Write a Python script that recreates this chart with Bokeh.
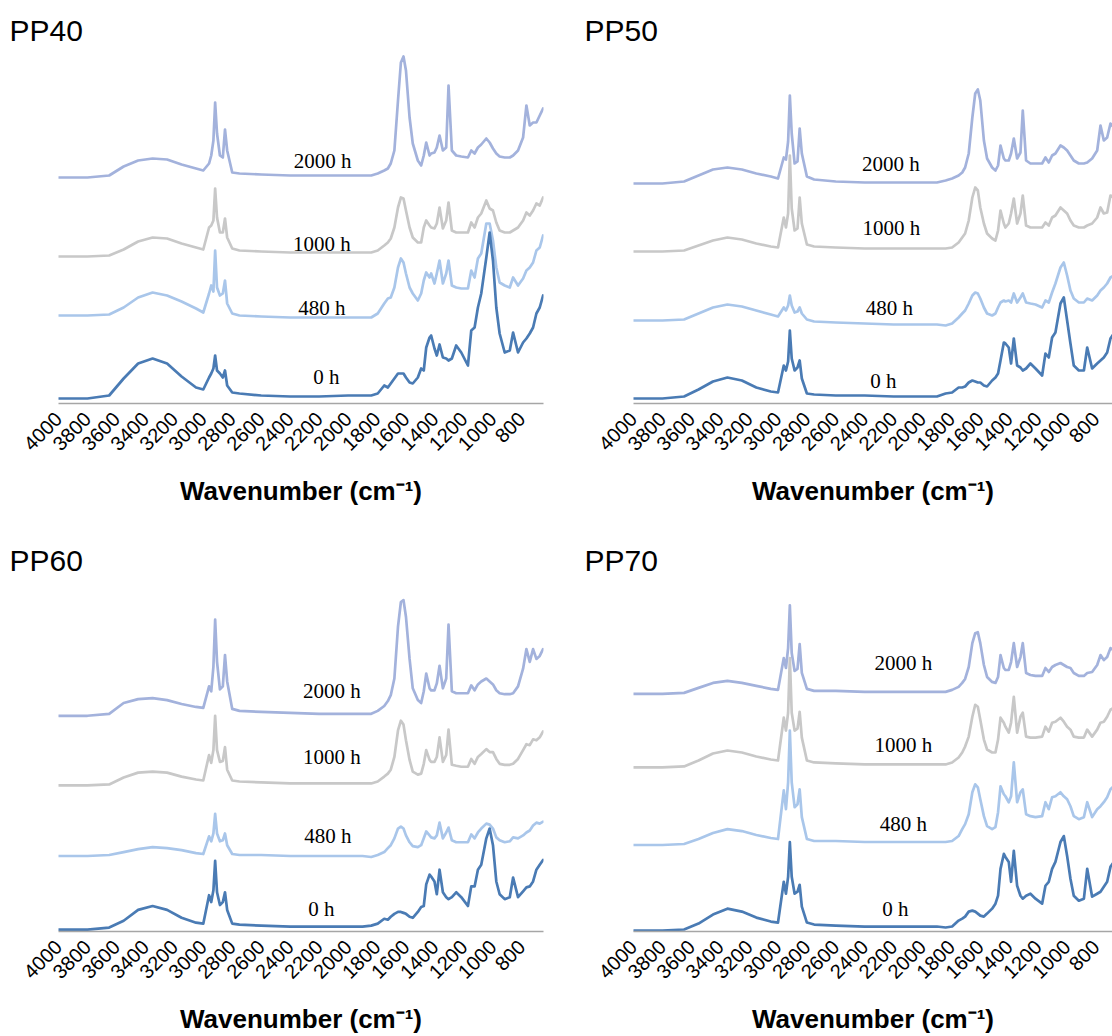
import math
from bokeh.plotting import figure
from bokeh.models import Range1d, FixedTicker, ColumnDataSource
from bokeh.layouts import gridplot
from bokeh.embed import file_html
from bokeh.resources import INLINE
from bokeh.core.properties import value

# ---------------- data ----------------
WAVENUMBER = [4000, 3800, 3650, 3550, 3450, 3350, 3250, 3150, 3050, 3000,
              2960, 2945, 2930, 2918, 2905, 2885, 2865, 2850, 2835, 2800,
              2750, 2600, 2400, 2200, 2000, 1900,
              1840, 1795, 1750, 1725, 1705, 1680, 1655, 1635, 1617, 1600,
              1575, 1553, 1518, 1495, 1477, 1460, 1437, 1426, 1403, 1387,
              1368, 1345, 1322, 1306, 1283, 1253, 1218, 1172, 1149, 1126,
              1103, 1080, 1045, 1022, 999, 976, 953, 918, 883, 860,
              826, 791, 768, 745, 722, 699, 676, 653]

TICKS = [4000, 3800, 3600, 3400, 3200, 3000, 2800, 2600, 2400, 2200,
         2000, 1800, 1600, 1400, 1200, 1000, 800]

HOURS = ["0 h", "480 h", "1000 h", "2000 h"]
COLORS = ["#4a7bb4", "#a9c6ea", "#c8c8c8", "#a3b2dc"]

# ---- PP40 ----
PP40_0H = [0.05, 0.05, 0.08, 0.25, 0.40, 0.45, 0.40, 0.27, 0.16, 0.14,
           0.26, 0.30, 0.35, 0.48, 0.33, 0.30, 0.26, 0.33, 0.18, 0.11,
           0.10, 0.08, 0.07, 0.07, 0.08, 0.08,
           0.08, 0.10, 0.18, 0.16, 0.20, 0.25, 0.30, 0.30, 0.30, 0.26,
           0.21, 0.20, 0.26, 0.35, 0.33, 0.56, 0.66, 0.68, 0.55, 0.48,
           0.59, 0.46, 0.45, 0.43, 0.45, 0.58, 0.51, 0.38, 0.73, 0.76,
           0.96, 1.10, 1.46, 1.71, 1.43, 0.96, 0.70, 0.51, 0.53, 0.71,
           0.51, 0.61, 0.65, 0.70, 0.76, 0.90, 0.96, 1.08]
PP40_480H = [0.88, 0.88, 0.89, 0.96, 1.06, 1.11, 1.08, 1.02, 0.95, 0.91,
             1.10, 1.18, 1.12, 1.53, 1.16, 1.08, 1.10, 1.23, 1.00, 0.90,
             0.88, 0.87, 0.86, 0.86, 0.86, 0.86,
             0.86, 0.90, 1.00, 1.05, 1.06, 1.16, 1.36, 1.45, 1.41, 1.30,
             1.16, 1.10, 1.03, 1.10, 1.23, 1.31, 1.26, 1.30, 1.20, 1.30,
             1.43, 1.20, 1.30, 1.43, 1.18, 1.16, 1.15, 1.15, 1.33, 1.26,
             1.45, 1.50, 1.80, 1.80, 1.63, 1.36, 1.21, 1.18, 1.16, 1.26,
             1.18, 1.25, 1.33, 1.36, 1.41, 1.53, 1.56, 1.68]
PP40_1000H = [1.47, 1.47, 1.48, 1.54, 1.62, 1.66, 1.65, 1.60, 1.56, 1.54,
              1.76, 1.78, 1.83, 2.15, 1.86, 1.71, 1.71, 1.85, 1.66, 1.55,
              1.53, 1.52, 1.51, 1.51, 1.51, 1.51,
              1.51, 1.53, 1.58, 1.61, 1.65, 1.76, 1.96, 2.06, 2.05, 1.93,
              1.76, 1.66, 1.61, 1.61, 1.76, 1.83, 1.78, 1.76, 1.75, 1.80,
              1.96, 1.75, 1.83, 2.01, 1.73, 1.71, 1.71, 1.71, 1.81, 1.76,
              1.86, 1.90, 2.03, 1.95, 1.93, 1.81, 1.73, 1.71, 1.71, 1.73,
              1.76, 1.83, 1.91, 1.88, 1.93, 2.00, 1.98, 2.06]
PP40_2000H = [2.26, 2.26, 2.28, 2.37, 2.43, 2.45, 2.44, 2.39, 2.35, 2.33,
              2.40, 2.48, 2.63, 3.01, 2.70, 2.48, 2.46, 2.74, 2.53, 2.31,
              2.30, 2.29, 2.28, 2.28, 2.28, 2.28,
              2.28, 2.30, 2.33, 2.35, 2.40, 2.53, 3.03, 3.41, 3.47, 3.33,
              2.86, 2.60, 2.43, 2.38, 2.48, 2.61, 2.48, 2.50, 2.51, 2.56,
              2.68, 2.53, 2.56, 3.18, 2.53, 2.48, 2.47, 2.46, 2.53, 2.50,
              2.56, 2.59, 2.65, 2.61, 2.55, 2.50, 2.47, 2.46, 2.46, 2.48,
              2.53, 2.66, 2.98, 2.78, 2.81, 2.81, 2.88, 2.95]
PP40_LABEL_WN = [2150, 2180, 2180, 2175]
PP40_LABEL_Y = [0.27, 0.96, 1.60, 2.43]

# ---- PP50 ----
PP50_0H = [0.05, 0.05, 0.07, 0.14, 0.22, 0.26, 0.23, 0.16, 0.12, 0.11,
           0.38, 0.33, 0.42, 0.73, 0.45, 0.33, 0.36, 0.43, 0.25, 0.10,
           0.09, 0.08, 0.08, 0.07, 0.07, 0.07,
           0.10, 0.11, 0.16, 0.16, 0.17, 0.21, 0.23, 0.22, 0.21, 0.21,
           0.18, 0.17, 0.23, 0.26, 0.30, 0.43, 0.61, 0.60, 0.56, 0.40,
           0.65, 0.38, 0.36, 0.33, 0.35, 0.40, 0.35, 0.28, 0.50, 0.46,
           0.66, 0.71, 1.00, 1.06, 0.83, 0.60, 0.38, 0.33, 0.33, 0.56,
           0.35, 0.40, 0.43, 0.46, 0.51, 0.65, 0.70, 0.76]
PP50_480H = [0.83, 0.83, 0.84, 0.90, 0.96, 0.99, 0.97, 0.93, 0.89, 0.87,
             0.96, 0.93, 0.98, 1.08, 0.98, 0.91, 0.92, 0.96, 0.90, 0.84,
             0.82, 0.81, 0.80, 0.79, 0.79, 0.79,
             0.78, 0.80, 0.86, 0.90, 0.93, 1.00, 1.08, 1.11, 1.10, 1.05,
             0.96, 0.90, 0.88, 0.90, 0.96, 1.01, 1.03, 1.02, 1.03, 1.01,
             1.10, 1.01, 1.06, 1.10, 1.01, 1.00, 0.99, 0.96, 1.03, 1.01,
             1.11, 1.20, 1.36, 1.41, 1.28, 1.13, 1.05, 1.01, 1.01, 1.05,
             1.03, 1.08, 1.13, 1.16, 1.20, 1.26, 1.28, 1.33]
PP50_1000H = [1.52, 1.52, 1.53, 1.58, 1.63, 1.66, 1.64, 1.60, 1.57, 1.56,
              1.86, 1.76, 1.90, 2.48, 1.95, 1.73, 1.75, 2.06, 1.80, 1.59,
              1.57, 1.56, 1.55, 1.55, 1.55, 1.55,
              1.55, 1.56, 1.61, 1.66, 1.70, 1.83, 2.06, 2.16, 2.13, 1.96,
              1.80, 1.70, 1.65, 1.63, 1.73, 1.93, 1.80, 1.76, 1.80, 1.90,
              2.05, 1.80, 1.90, 2.08, 1.78, 1.76, 1.76, 1.76, 1.81, 1.78,
              1.86, 1.88, 1.96, 1.93, 1.90, 1.83, 1.78, 1.76, 1.76, 1.78,
              1.80, 1.86, 1.96, 1.90, 1.91, 2.08, 2.06, 2.13]
PP50_2000H = [2.20, 2.20, 2.22, 2.28, 2.34, 2.36, 2.34, 2.30, 2.27, 2.25,
              2.46, 2.44, 2.62, 3.08, 2.70, 2.40, 2.42, 2.75, 2.50, 2.27,
              2.24, 2.22, 2.21, 2.21, 2.21, 2.21,
              2.23, 2.25, 2.28, 2.31, 2.36, 2.50, 2.86, 3.10, 3.14, 3.03,
              2.63, 2.45, 2.36, 2.33, 2.38, 2.58, 2.45, 2.43, 2.43, 2.50,
              2.65, 2.45, 2.51, 2.93, 2.43, 2.40, 2.40, 2.40, 2.46, 2.41,
              2.48, 2.50, 2.58, 2.56, 2.53, 2.48, 2.43, 2.40, 2.40, 2.41,
              2.45, 2.53, 2.78, 2.63, 2.66, 2.80, 2.76, 2.83]
PP50_LABEL_WN = [2270, 2230, 2215, 2218]
PP50_LABEL_Y = [0.23, 0.96, 1.76, 2.40]

# ---- PP60 ----
PP60_0H = [0.02, 0.02, 0.04, 0.11, 0.22, 0.26, 0.22, 0.14, 0.09, 0.08,
           0.37, 0.30, 0.42, 0.72, 0.40, 0.27, 0.30, 0.40, 0.22, 0.08,
           0.07, 0.06, 0.05, 0.05, 0.05, 0.05,
           0.06, 0.08, 0.13, 0.12, 0.15, 0.18, 0.20, 0.20, 0.19, 0.18,
           0.15, 0.14, 0.20, 0.25, 0.26, 0.48, 0.58, 0.56, 0.51, 0.38,
           0.63, 0.40, 0.35, 0.33, 0.35, 0.40, 0.35, 0.26, 0.46, 0.46,
           0.63, 0.68, 0.95, 1.05, 0.88, 0.51, 0.38, 0.33, 0.35, 0.55,
           0.35, 0.41, 0.45, 0.46, 0.51, 0.63, 0.68, 0.73]
PP60_480H = [0.77, 0.77, 0.78, 0.81, 0.84, 0.86, 0.85, 0.83, 0.80, 0.79,
             0.97, 0.92, 1.00, 1.20, 1.00, 0.92, 0.93, 1.00, 0.88, 0.79,
             0.78, 0.78, 0.77, 0.77, 0.77, 0.77,
             0.76, 0.78, 0.81, 0.85, 0.88, 0.95, 1.05, 1.07, 1.05, 0.98,
             0.91, 0.87, 0.86, 0.88, 0.95, 1.02, 0.98, 0.96, 0.95, 0.98,
             1.11, 0.95, 1.01, 1.06, 0.93, 0.91, 0.91, 0.91, 0.99, 0.95,
             1.01, 1.05, 1.10, 1.09, 1.05, 0.96, 0.93, 0.91, 0.92, 0.96,
             0.95, 0.98, 1.01, 1.03, 1.08, 1.11, 1.10, 1.12]
PP60_1000H = [1.49, 1.49, 1.50, 1.57, 1.62, 1.63, 1.62, 1.58, 1.55, 1.54,
              1.80, 1.72, 1.85, 2.20, 1.85, 1.73, 1.74, 1.88, 1.65, 1.54,
              1.53, 1.52, 1.51, 1.51, 1.51, 1.51,
              1.51, 1.53, 1.58, 1.61, 1.65, 1.78, 2.05, 2.15, 2.11, 1.95,
              1.75, 1.63, 1.60, 1.61, 1.71, 1.85, 1.75, 1.73, 1.73, 1.78,
              1.98, 1.73, 1.80, 2.06, 1.70, 1.69, 1.68, 1.68, 1.76, 1.71,
              1.78, 1.81, 1.86, 1.83, 1.83, 1.76, 1.71, 1.70, 1.70, 1.71,
              1.76, 1.85, 1.91, 1.90, 1.96, 1.95, 1.98, 2.04]
PP60_2000H = [2.20, 2.20, 2.22, 2.33, 2.37, 2.38, 2.36, 2.32, 2.29, 2.28,
              2.50, 2.45, 2.70, 3.18, 2.75, 2.47, 2.50, 2.82, 2.55, 2.27,
              2.25, 2.24, 2.23, 2.22, 2.22, 2.22,
              2.22, 2.25, 2.30, 2.35, 2.41, 2.58, 3.11, 3.36, 3.38, 3.21,
              2.78, 2.48, 2.36, 2.33, 2.45, 2.63, 2.48, 2.46, 2.46, 2.53,
              2.71, 2.48, 2.58, 3.13, 2.45, 2.43, 2.43, 2.43, 2.51, 2.46,
              2.52, 2.55, 2.58, 2.55, 2.52, 2.46, 2.43, 2.42, 2.42, 2.43,
              2.50, 2.68, 2.88, 2.75, 2.88, 2.78, 2.81, 2.88]
PP60_LABEL_WN = [2185, 2140, 2111, 2111]
PP60_LABEL_Y = [0.23, 0.97, 1.78, 2.45]

# ---- PP70 ----
PP70_0H = [0.01, 0.01, 0.02, 0.08, 0.17, 0.23, 0.20, 0.14, 0.10, 0.09,
           0.50, 0.38, 0.55, 0.90, 0.55, 0.38, 0.40, 0.47, 0.25, 0.09,
           0.07, 0.06, 0.05, 0.05, 0.05, 0.05,
           0.04, 0.05, 0.11, 0.13, 0.15, 0.20, 0.21, 0.20, 0.18, 0.16,
           0.15, 0.18, 0.23, 0.28, 0.36, 0.63, 0.78, 0.75, 0.70, 0.50,
           0.81, 0.46, 0.36, 0.33, 0.36, 0.38, 0.33, 0.28, 0.46, 0.50,
           0.63, 0.70, 0.90, 0.96, 0.76, 0.53, 0.36, 0.31, 0.33, 0.63,
           0.35, 0.38, 0.40, 0.45, 0.50, 0.65, 0.70, 0.76]
PP70_480H = [0.87, 0.87, 0.88, 0.93, 0.99, 1.03, 1.01, 0.97, 0.94, 0.93,
             1.42, 1.23, 1.50, 2.02, 1.50, 1.25, 1.28, 1.43, 1.15, 0.93,
             0.91, 0.91, 0.90, 0.90, 0.90, 0.90,
             0.90, 0.91, 0.96, 1.03, 1.08, 1.18, 1.40, 1.48, 1.45, 1.33,
             1.16, 1.06, 1.03, 1.05, 1.20, 1.46, 1.38, 1.36, 1.30, 1.36,
             1.70, 1.30, 1.40, 1.43, 1.18, 1.16, 1.15, 1.16, 1.30, 1.23,
             1.35, 1.36, 1.40, 1.36, 1.33, 1.26, 1.16, 1.13, 1.15, 1.30,
             1.15, 1.23, 1.26, 1.30, 1.35, 1.43, 1.46, 1.50]
PP70_1000H = [1.65, 1.65, 1.66, 1.72, 1.79, 1.82, 1.80, 1.76, 1.73, 1.72,
              2.15, 2.02, 2.20, 2.75, 2.20, 2.02, 2.04, 2.21, 1.95, 1.72,
              1.70, 1.69, 1.68, 1.68, 1.68, 1.68,
              1.68, 1.70, 1.75, 1.80, 1.86, 1.96, 2.16, 2.28, 2.26, 2.13,
              1.93, 1.83, 1.80, 1.80, 1.93, 2.15, 2.10, 2.06, 2.00, 2.10,
              2.36, 2.00, 2.16, 2.20, 1.96, 1.95, 1.95, 1.96, 2.06, 2.01,
              2.10, 2.11, 2.15, 2.11, 2.06, 2.03, 1.96, 1.95, 1.95, 2.03,
              1.96, 2.03, 2.10, 2.11, 2.16, 2.23, 2.25, 2.28]
PP70_2000H = [2.39, 2.39, 2.40, 2.45, 2.50, 2.52, 2.50, 2.47, 2.44, 2.43,
              2.75, 2.65, 2.85, 3.28, 2.80, 2.62, 2.64, 2.89, 2.60, 2.44,
              2.42, 2.42, 2.41, 2.41, 2.41, 2.41,
              2.41, 2.43, 2.46, 2.50, 2.54, 2.66, 2.90, 3.00, 3.01, 2.90,
              2.68, 2.56, 2.51, 2.50, 2.56, 2.78, 2.65, 2.63, 2.63, 2.71,
              2.90, 2.66, 2.76, 2.90, 2.60, 2.58, 2.57, 2.57, 2.65, 2.61,
              2.66, 2.68, 2.70, 2.68, 2.66, 2.65, 2.60, 2.57, 2.57, 2.60,
              2.61, 2.68, 2.78, 2.73, 2.76, 2.85, 2.83, 2.88]
PP70_LABEL_WN = [2187, 2133, 2133, 2133]
PP70_LABEL_Y = [0.23, 1.08, 1.88, 2.70]

for arr in [PP40_0H, PP40_480H, PP40_1000H, PP40_2000H,
            PP50_0H, PP50_480H, PP50_1000H, PP50_2000H,
            PP60_0H, PP60_480H, PP60_1000H, PP60_2000H,
            PP70_0H, PP70_480H, PP70_1000H, PP70_2000H]:
    assert len(arr) == len(WAVENUMBER), len(arr)


def make_panel(name, series, lab_wn, lab_y, x_end, borders, y_top):
    b_left, b_right, b_top, b_bottom = borders
    p = figure(width=556, height=518, title=name,
               x_range=Range1d(4000, x_end), y_range=Range1d(0, y_top),
               output_backend="svg", toolbar_location=None,
               y_axis_location=None,
               min_border_left=b_left, min_border_right=b_right,
               min_border_top=b_top, min_border_bottom=b_bottom)
    p.grid.visible = False
    p.outline_line_color = None
    p.background_fill_color = "white"
    p.border_fill_color = "white"

    p.title.text_font = "Liberation Sans"
    p.title.text_font_size = "30px"
    p.title.text_font_style = "normal"
    p.title.text_color = "black"
    p.title.align = "left"
    p.title.offset = -49
    p.title.standoff = 4

    ax = p.xaxis[0]
    ax.ticker = FixedTicker(ticks=TICKS)
    ax.major_label_orientation = math.pi / 4
    ax.major_tick_line_color = None
    ax.minor_tick_line_color = None
    ax.axis_line_color = "#a6a6a6"
    ax.axis_line_width = 1.5
    ax.major_label_text_font = "Liberation Sans"
    ax.major_label_text_font_size = "20px"
    ax.major_label_text_color = "black"
    ax.major_label_standoff = 6
    ax.axis_label = "Wavenumber (cm\u207b\u00b9)"
    ax.axis_label_text_font = "Liberation Sans"
    ax.axis_label_text_font_style = "bold"
    ax.axis_label_text_font_size = "26px"
    ax.axis_label_text_color = "black"
    ax.axis_label_standoff = 16

    # 2000 h drawn first, 0 h last (on top)
    for i in [3, 2, 1, 0]:
        p.line(WAVENUMBER, series[i], line_color=COLORS[i], line_width=2.7,
               line_join="round", line_cap="round")

    src = ColumnDataSource(dict(x=lab_wn, y=lab_y, t=HOURS))
    p.text(x="x", y="y", text="t", source=src,
           text_font=value("Liberation Serif"), text_font_size="21px",
           text_align="center", text_baseline="middle", text_color="black")
    return p


p40 = make_panel("PP40", [PP40_0H, PP40_480H, PP40_1000H, PP40_2000H],
                 PP40_LABEL_WN, PP40_LABEL_Y, 650, (58, 13, 48, 115), 3.55)
p50 = make_panel("PP50", [PP50_0H, PP50_480H, PP50_1000H, PP50_2000H],
                 PP50_LABEL_WN, PP50_LABEL_Y, 685, (77, 0, 48, 115), 3.55)
p60 = make_panel("PP60", [PP60_0H, PP60_480H, PP60_1000H, PP60_2000H],
                 PP60_LABEL_WN, PP60_LABEL_Y, 650, (58, 13, 60, 98), 3.60)
p70 = make_panel("PP70", [PP70_0H, PP70_480H, PP70_1000H, PP70_2000H],
                 PP70_LABEL_WN, PP70_LABEL_Y, 685, (77, 0, 60, 103), 3.55)

grid = gridplot([[p40, p50], [p60, p70]], toolbar_location=None)

open("out.html", "w").write(file_html(grid, INLINE))
